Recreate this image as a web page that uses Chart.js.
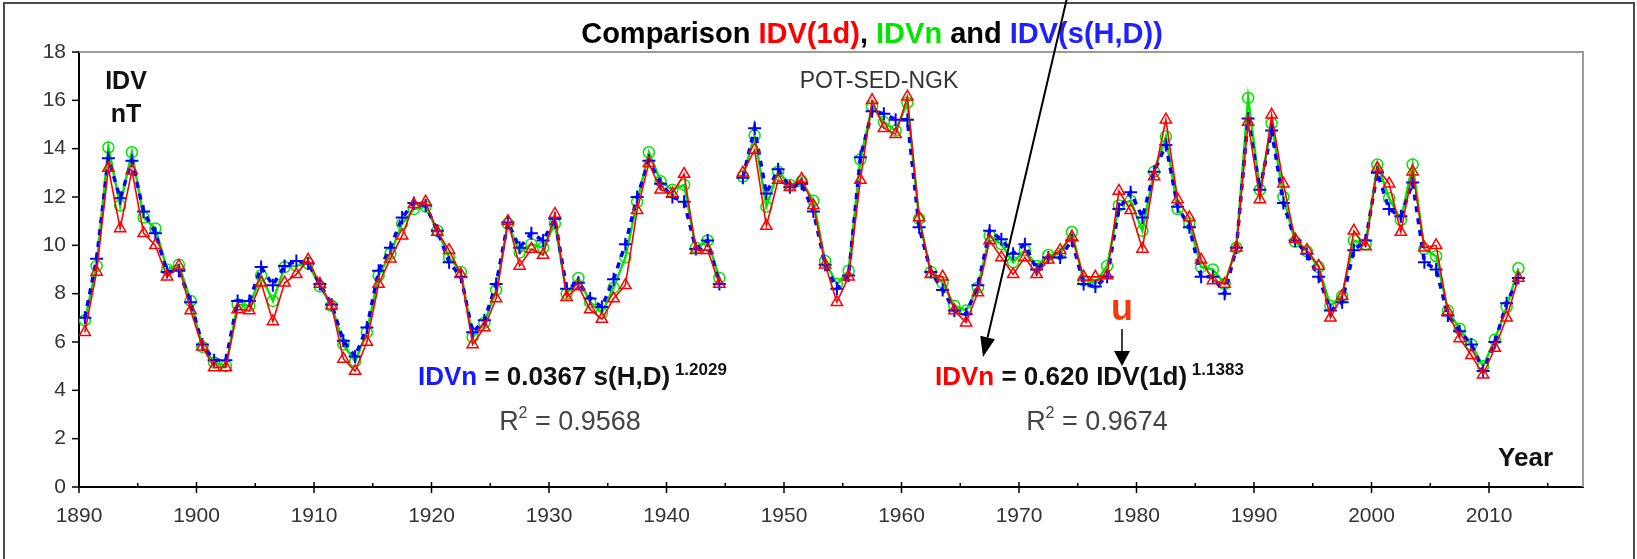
<!DOCTYPE html>
<html>
<head>
<meta charset="utf-8">
<script src="https://cdn.jsdelivr.net/npm/chart.js@4.4.1/dist/chart.umd.min.js"></script>
<style>html,body{margin:0;padding:0;background:#fff;overflow:hidden}</style>
</head>
<body>
<canvas id="c" width="1637" height="559"></canvas>
<script>
// annual means, plotted at mid-year
const years = [1890,1891,1892,1893,1894,1895,1896,1897,1898,1899,
  1900,1901,1902,1903,1904,1905,1906,1907,1908,1909,
  1910,1911,1912,1913,1914,1915,1916,1917,1918,1919,
  1920,1921,1922,1923,1924,1925,1926,1927,1928,1929,
  1930,1931,1932,1933,1934,1935,1936,1937,1938,1939,
  1940,1941,1942,1943,1944,1945,1946,1947,1948,1949,
  1950,1951,1952,1953,1954,1955,1956,1957,1958,1959,
  1960,1961,1962,1963,1964,1965,1966,1967,1968,1969,
  1970,1971,1972,1973,1974,1975,1976,1977,1978,1979,
  1980,1981,1982,1983,1984,1985,1986,1987,1988,1989,
  1990,1991,1992,1993,1994,1995,1996,1997,1998,1999,
  2000,2001,2002,2003,2004,2005,2006,2007,2008,2009,
  2010,2011,2012];

// IDV(1d) - red triangles
const idv1d = [6.4,8.9,13.2,10.7,13.1,10.5,10.0,8.7,9.15,7.3,
  5.8,4.95,4.95,7.35,7.3,8.45,6.85,8.45,8.8,9.4,
  8.4,7.5,5.3,4.8,6.0,8.4,9.45,10.4,11.7,11.8,
  10.55,9.8,8.8,5.9,6.6,7.8,11.0,9.15,9.85,9.6,
  11.3,7.85,8.3,7.35,6.95,7.8,8.35,11.45,13.4,12.3,
  12.15,12.95,9.8,9.8,8.4,null,13.0,13.95,10.8,12.7,
  12.4,12.75,11.65,9.2,7.65,8.7,12.7,16.0,14.85,14.6,
  16.15,11.15,8.8,8.7,7.3,6.8,8.05,10.2,9.5,8.8,
  9.5,8.8,9.4,9.8,10.35,8.7,8.7,8.75,12.25,11.45,
  9.85,12.85,15.2,11.9,11.15,9.4,8.55,8.4,9.9,15.1,
  11.9,15.4,12.55,10.25,9.8,9.15,7.0,7.9,10.6,9.95,
  13.2,12.55,10.55,13.05,9.9,10.0,7.25,6.15,5.45,4.65,
  5.75,7.0,8.65];

// IDVn - green circles
const idvn = [6.9,9.15,14.05,11.65,13.85,11.15,10.7,9.0,9.2,7.7,
  5.8,5.15,5.0,7.55,7.5,8.75,7.7,9.1,9.15,9.25,
  8.3,7.5,5.9,5.2,6.4,8.75,9.65,10.9,11.5,11.6,
  10.6,9.5,8.9,6.2,6.8,8.15,10.9,9.7,10.05,9.9,
  10.9,8.0,8.65,7.65,7.2,8.25,9.5,11.8,13.85,12.65,
  12.3,12.5,9.9,10.2,8.65,null,12.85,14.55,11.6,13.05,
  12.5,12.65,11.85,9.35,8.4,8.95,13.55,15.75,15.1,14.75,
  15.9,11.1,8.9,8.45,7.5,7.3,8.25,10.4,10.05,9.3,
  9.8,9.15,9.6,9.65,10.55,8.55,8.45,9.15,11.65,11.85,
  10.6,13.05,14.5,11.5,10.9,9.1,9.0,8.4,9.9,16.1,
  12.3,15.05,12.0,10.15,9.75,9.1,7.5,7.9,10.2,10.05,
  13.35,11.95,11.05,13.35,9.85,9.55,7.3,6.55,5.9,5.0,
  6.1,7.45,9.05];

// IDV(s(H,D)) - blue crosses
const idvsHD = [7.0,9.45,13.6,11.95,13.5,11.4,10.5,8.9,8.95,7.65,
  5.9,5.25,5.25,7.7,7.7,9.1,8.35,9.15,9.35,9.25,
  8.4,7.55,6.05,5.4,6.6,8.95,9.9,11.15,11.75,11.65,
  10.6,9.3,8.7,6.4,6.9,8.4,10.95,9.9,10.5,10.2,
  11.1,8.2,8.45,7.8,7.45,8.6,10.05,12.0,13.5,12.55,
  12.0,11.8,9.85,10.2,8.4,null,12.8,14.85,12.15,13.15,
  12.4,12.55,11.4,9.2,8.2,8.75,13.65,15.55,15.45,15.2,
  15.2,10.75,8.9,8.15,7.3,7.15,8.35,10.6,10.25,9.65,
  10.05,9.0,9.5,9.5,10.2,8.4,8.3,8.7,11.5,12.2,
  11.15,13.05,14.15,11.6,10.75,8.7,8.7,8.0,9.9,15.25,
  12.3,14.75,11.75,10.2,9.65,8.7,7.3,7.65,9.8,10.2,
  13.0,11.5,11.2,12.6,9.3,9.0,7.1,6.45,5.9,4.8,
  6.0,7.6,8.65];

const FONT = "'Liberation Sans', Arial, Helvetica, sans-serif";
const RED = '#ff0000', GREEN = '#00e600', BLUE = '#0000ff';

function pts(arr){ return years.map((y,i)=>({x: y+0.5, y: arr[i]})); }

function drawRich(ctx, segs, x, y, align){
  let w = 0;
  segs.forEach(s=>{ ctx.font = s.f; s.w = ctx.measureText(s.t).width; w += s.w; });
  let cx = align==='center' ? x - w/2 : (align==='right' ? x - w : x);
  ctx.textAlign = 'left'; ctx.textBaseline = 'middle';
  segs.forEach(s=>{ ctx.font = s.f; ctx.fillStyle = s.c; ctx.fillText(s.t, cx, y + (s.dy||0)); cx += s.w; });
}

function arrow(ctx, x1, y1, x2, y2, hl, hw){
  const a = Math.atan2(y2-y1, x2-x1);
  const bx = x2 - hl*Math.cos(a), by = y2 - hl*Math.sin(a);
  ctx.beginPath(); ctx.moveTo(x1,y1); ctx.lineTo(bx,by); ctx.stroke();
  ctx.beginPath(); ctx.moveTo(x2,y2);
  ctx.lineTo(bx + hw/2*Math.sin(a), by - hw/2*Math.cos(a));
  ctx.lineTo(bx - hw/2*Math.sin(a), by + hw/2*Math.cos(a));
  ctx.closePath(); ctx.fill();
}

const decor = {
  id: 'decor',
  beforeDatasetsDraw(chart){
    const {ctx, chartArea:a} = chart;
    ctx.save();
    ctx.strokeStyle = '#9a9a9a'; ctx.lineWidth = 2;
    ctx.beginPath();
    ctx.moveTo(a.left, a.top); ctx.lineTo(a.right, a.top); ctx.lineTo(a.right, a.bottom);
    ctx.stroke();
    // tick marks
    const xs = chart.scales.x, ys = chart.scales.y;
    ctx.strokeStyle = '#000'; ctx.lineWidth = 1.5;
    for(let v=1890; v<=2015; v+=5){
      const px = xs.getPixelForValue(v);
      const major = v % 10 === 0;
      ctx.beginPath();
      ctx.moveTo(px, a.bottom - (major ? 5 : 4));
      ctx.lineTo(px, a.bottom + (major ? 6 : 1));
      ctx.stroke();
    }
    ys.ticks.forEach(t=>{
      const py = ys.getPixelForValue(t.value);
      ctx.beginPath(); ctx.moveTo(a.left - 7, py); ctx.lineTo(a.left, py); ctx.stroke();
    });
    ctx.restore();
  },
  afterDraw(chart){
    const {ctx} = chart;
    ctx.save();
    // outer frame
    ctx.strokeStyle = '#4a4a4a'; ctx.lineWidth = 2;
    ctx.beginPath();
    ctx.moveTo(4, 559); ctx.lineTo(4, 3); ctx.lineTo(1634, 3); ctx.lineTo(1634, 559);
    ctx.stroke();

    const B = 'bold ';
    drawRich(ctx, [
      {t:'Comparison ', c:'#000', f:B+'29px '+FONT},
      {t:'IDV(1d)', c:RED, f:B+'29px '+FONT},
      {t:', ', c:'#000', f:B+'29px '+FONT},
      {t:'IDVn', c:GREEN, f:B+'29px '+FONT},
      {t:' and ', c:'#000', f:B+'29px '+FONT},
      {t:'IDV(s(H,D))', c:'#2020ff', f:B+'29px '+FONT}
    ], 872, 35, 'center');

    drawRich(ctx, [{t:'POT-SED-NGK', c:'#333', f:'23px '+FONT}], 879, 82, 'center');
    drawRich(ctx, [{t:'IDV', c:'#111', f:B+'25px '+FONT}], 126, 82, 'center');
    drawRich(ctx, [{t:'nT', c:'#111', f:B+'25px '+FONT}], 126, 115, 'center');
    drawRich(ctx, [{t:'Year', c:'#111', f:B+'26px '+FONT}], 1553, 459, 'right');

    drawRich(ctx, [
      {t:'IDVn', c:'#1a1aff', f:B+'26px '+FONT},
      {t:' = 0.0367 s(H,D)', c:'#111', f:B+'26px '+FONT},
      {t:' 1.2029', c:'#111', f:B+'17px '+FONT, dy:-8}
    ], 418, 378, 'left');
    drawRich(ctx, [
      {t:'R', c:'#444', f:'27px '+FONT},
      {t:'2', c:'#444', f:'16px '+FONT, dy:-9},
      {t:' = 0.9568', c:'#444', f:'27px '+FONT}
    ], 570, 423, 'center');

    drawRich(ctx, [
      {t:'IDVn', c:RED, f:B+'26px '+FONT},
      {t:' = 0.620 IDV(1d)', c:'#111', f:B+'26px '+FONT},
      {t:' 1.1383', c:'#111', f:B+'17px '+FONT, dy:-8}
    ], 935, 378, 'left');
    drawRich(ctx, [
      {t:'R', c:'#444', f:'27px '+FONT},
      {t:'2', c:'#444', f:'16px '+FONT, dy:-9},
      {t:' = 0.9674', c:'#444', f:'27px '+FONT}
    ], 1097, 423, 'center');

    drawRich(ctx, [{t:'u', c:'#f23a0a', f:B+'36px '+FONT}], 1122, 310, 'center');

    ctx.strokeStyle = '#000'; ctx.fillStyle = '#000'; ctx.lineWidth = 2;
    arrow(ctx, 1067, -2, 983, 357, 20, 15);
    ctx.lineWidth = 1.5;
    arrow(ctx, 1122, 329, 1122, 366, 15, 16);
    ctx.restore();
  }
};

new Chart(document.getElementById('c'), {
  type: 'line',
  data: {
    datasets: [
      { label: 'IDV(1d)', data: pts(idv1d), borderColor: RED, borderWidth: 1.6,
        pointStyle: 'triangle', pointRadius: 6.5, pointBorderColor: RED, pointBackgroundColor: 'rgba(0,0,0,0)',
        pointBorderWidth: 1.5, order: 0, spanGaps: false },
      { label: 'IDV(s(H,D))', data: pts(idvsHD), borderColor: BLUE, borderWidth: 3.5, borderDash: [6,6],
        pointStyle: 'cross', pointRadius: 6.5, pointBorderColor: BLUE, pointBorderWidth: 2,
        order: 1, spanGaps: false },
      { label: 'IDVn', data: pts(idvn), borderColor: GREEN, borderWidth: 2.5,
        pointStyle: 'circle', pointRadius: 5.5, pointBorderColor: GREEN, pointBackgroundColor: 'rgba(0,0,0,0)',
        pointBorderWidth: 1.5, order: 2, spanGaps: false }
    ]
  },
  options: {
    responsive: false,
    animation: false,
    devicePixelRatio: 1,
    layout: { padding: { left: 0, top: 52, right: 54, bottom: 0 } },
    plugins: { legend: { display: false }, tooltip: { enabled: false } },
    elements: { line: { tension: 0 } },
    scales: {
      x: {
        type: 'linear', min: 1890, max: 2018,
        grid: { display: false, drawTicks: false },
        border: { display: true, color: '#000', width: 2 },
        ticks: { stepSize: 10, includeBounds: false, autoSkip: false, maxRotation: 0,
          padding: 17, color: '#333', font: { family: FONT, size: 21 },
          callback: v => v % 10 === 0 ? String(v) : '' },
        afterFit: s => { s.height = 72; }
      },
      y: {
        min: 0, max: 18,
        grid: { display: false, drawTicks: false },
        border: { display: true, color: '#000', width: 2 },
        ticks: { stepSize: 2, padding: 13, color: '#333', font: { family: FONT, size: 21 } },
        afterFit: s => { s.width = 79; }
      }
    }
  },
  plugins: [decor]
});
</script>
</body>
</html>
